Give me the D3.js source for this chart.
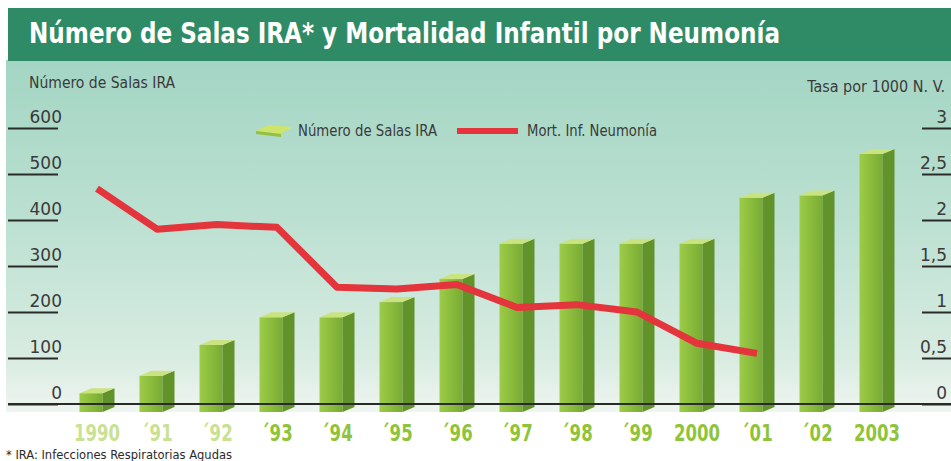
<!DOCTYPE html>
<html>
<head>
<meta charset="utf-8">
<script src="https://cdn.jsdelivr.net/npm/d3@7"></script>
<style>
body { margin:0; background:#fff; }
svg { display:block; }
.narrow { font-family:"Liberation Sans Narrow","DejaVu Sans Condensed","Arial Narrow",sans-serif; font-stretch:condensed; }
</style>
</head>
<body>
<svg id="graph"></svg>
<script>
// data
var years = ["1990","´91","´92","´93","´94","´95","´96","´97","´98","´99","2000","´01","´02","2003"];
var salas = [30,68,135,195,195,228,278,355,355,355,355,455,460,550];
var mort = [2.34,1.90,1.95,1.92,1.27,1.25,1.30,1.05,1.08,1.00,0.66,0.55,null,null];
var leftTicks = [0,100,200,300,400,500,600];
var rightTicks = [0,0.5,1,1.5,2,2.5,3];

var screen = {width:951, height:461};
var svg = d3.select("#graph")
    .attr("width",screen.width)
    .attr("height",screen.height);

var defs = svg.append("defs");
var bg = defs.append("linearGradient").attr("id","bg")
    .attr("x1",0).attr("y1",0).attr("x2",0).attr("y2",1);
bg.append("stop").attr("offset","0").attr("stop-color","#a4d5c4");
bg.append("stop").attr("offset","0.45").attr("stop-color","#bbe0d1");
bg.append("stop").attr("offset","0.85").attr("stop-color","#d9ece2");
bg.append("stop").attr("offset","1").attr("stop-color","#eff5f0");

var front = defs.append("linearGradient").attr("id","front")
    .attr("x1",0).attr("y1",0).attr("x2",1).attr("y2",0);
front.append("stop").attr("offset","0").attr("stop-color","#9dcc47");
front.append("stop").attr("offset","1").attr("stop-color","#78ab33");

// shrink a text horizontally to a given share of its natural width
var squeeze = function(sel, share)
{
    sel.each(function(){
        var w = this.getComputedTextLength();
        d3.select(this)
            .attr("textLength",w*share)
            .attr("lengthAdjust","spacingAndGlyphs");
    });
}

// background + banner
svg.append("rect").attr("x",6).attr("y",60).attr("width",945).attr("height",352)
    .attr("fill","url(#bg)");
svg.append("rect").attr("x",8).attr("y",8).attr("width",943).attr("height",53)
    .attr("fill","#2f8b66");
svg.append("text").classed("narrow",true)
    .attr("x",29).attr("y",43)
    .attr("font-size",28).attr("font-weight","bold").attr("fill","#fff")
    .attr("textLength",751).attr("lengthAdjust","spacingAndGlyphs")
    .text("Número de Salas IRA* y Mortalidad Infantil por Neumonía");

svg.append("text").classed("narrow",true)
    .attr("x",29).attr("y",88).attr("font-size",16).attr("fill","#3a3a3a")
    .attr("textLength",146).attr("lengthAdjust","spacingAndGlyphs")
    .text("Número de Salas IRA");
svg.append("text").classed("narrow",true)
    .attr("x",945).attr("y",92).attr("font-size",16).attr("fill","#3a3a3a")
    .attr("text-anchor","end")
    .text("Tasa por 1000 N. V.");

// scales
var xScale = d3.scaleBand()
    .domain(years)
    .range([67,907])
    .paddingInner(25/60)
    .paddingOuter(12.5/60);
var yLeft = d3.scaleLinear().domain([0,600]).range([404,128]);
var yRight = d3.scaleLinear().domain([0,3]).range([404,128]);

// axes
var leftAxis = svg.append("g")
    .attr("transform","translate(58,0)")
    .call(d3.axisLeft(yLeft).tickValues(leftTicks).tickSize(50).tickFormat(d3.format("d")));
leftAxis.select(".domain").remove();
leftAxis.selectAll("line").attr("stroke","#2a2a2a").attr("stroke-width",2);
leftAxis.selectAll("text")
    .attr("x",4).attr("dy",-6)
    .attr("font-family","DejaVu Sans").attr("font-size",17).attr("fill","#3a3a3a");

var rightAxis = svg.append("g")
    .attr("transform","translate(922,0)")
    .call(d3.axisRight(yRight).tickValues(rightTicks).tickSize(29)
        .tickFormat(function(d){ return String(d).replace(".",","); }));
rightAxis.select(".domain").remove();
rightAxis.selectAll("line").attr("stroke","#2a2a2a").attr("stroke-width",2);
rightAxis.selectAll("text")
    .attr("x",25).attr("dy",-6).attr("text-anchor","end")
    .attr("font-family","DejaVu Sans").attr("font-size",17).attr("fill","#3a3a3a");

// bars (simple 3d prisms)
var entries = years.map(function(y,i){ return {year:y, salas:salas[i], mort:mort[i]}; });
var y0 = yLeft(0);
var bw = xScale.bandwidth();
var bars = svg.append("g").selectAll("g.bar")
    .data(entries)
    .enter().append("g").classed("bar",true);

bars.append("rect")
    .attr("x",function(d){ return xScale(d.year); })
    .attr("y",function(d){ return yLeft(d.salas)+3; })
    .attr("width",bw-12)
    .attr("height",function(d){ return y0+8-(yLeft(d.salas)+3); })
    .attr("fill","url(#front)");
bars.append("polygon")
    .attr("points",function(d){
        var l = xScale(d.year), t = yLeft(d.salas)+3;
        return [[l+bw-12,t],[l+bw,t-5],[l+bw,y0+3],[l+bw-12,y0+8]].join(" ");
    })
    .attr("fill","#62922a");
bars.append("polygon")
    .attr("points",function(d){
        var l = xScale(d.year), t = yLeft(d.salas)+3;
        return [[l,t],[l+12,t-5],[l+bw,t-5],[l+bw-12,t]].join(" ");
    })
    .attr("fill","#c9e381");

// baseline
svg.append("line").attr("x1",8).attr("x2",951).attr("y1",y0).attr("y2",y0)
    .attr("stroke","#2a2a2a").attr("stroke-width",2);

// mortality line
var line = d3.line()
    .defined(function(d){ return d.mort != null; })
    .x(function(d){ return xScale(d.year)+bw/2; })
    .y(function(d){ return yRight(d.mort); });
svg.append("path").datum(entries)
    .attr("d",line)
    .attr("fill","none")
    .attr("stroke","#e4343c")
    .attr("stroke-width",7)
    .attr("stroke-linejoin","round");

// x labels
var xAxis = svg.append("g")
    .attr("transform","translate(0,420)")
    .call(d3.axisBottom(xScale).tickSize(0));
xAxis.select(".domain").remove();
xAxis.selectAll("text")
    .attr("y",21).attr("dy",0)
    .attr("font-size",23).attr("font-weight","bold")
    .attr("font-family","Liberation Sans Narrow, DejaVu Sans Condensed, sans-serif")
    .attr("fill",function(d,i){ return i < 3 ? "#c9e193" : "#8fc43a"; })
    .call(squeeze,0.8);

// legend
var legend = svg.append("g");
legend.append("polygon")
    .attr("points","256,131 268,125 293,127 281,134")
    .attr("fill","#cfe46a");
legend.append("polygon")
    .attr("points","256,131 281,134 281,137 256,134")
    .attr("fill","#93c23c");
legend.append("text").classed("narrow",true)
    .attr("x",298).attr("y",136).attr("font-size",15).attr("fill","#3a3a3a")
    .attr("textLength",139).attr("lengthAdjust","spacingAndGlyphs")
    .text("Número de Salas IRA");
legend.append("line")
    .attr("x1",457).attr("x2",518).attr("y1",131).attr("y2",131)
    .attr("stroke","#e4343c").attr("stroke-width",6);
legend.append("text").classed("narrow",true)
    .attr("x",527).attr("y",136).attr("font-size",15).attr("fill","#3a3a3a")
    .attr("textLength",130).attr("lengthAdjust","spacingAndGlyphs")
    .text("Mort. Inf. Neumonía");

// footnote
svg.append("text").classed("narrow",true)
    .attr("x",6).attr("y",459).attr("font-size",13).attr("fill","#2a2a2a")
    .attr("textLength",226).attr("lengthAdjust","spacingAndGlyphs")
    .text("* IRA: Infecciones Respiratorias Agudas");
</script>
</body>
</html>
